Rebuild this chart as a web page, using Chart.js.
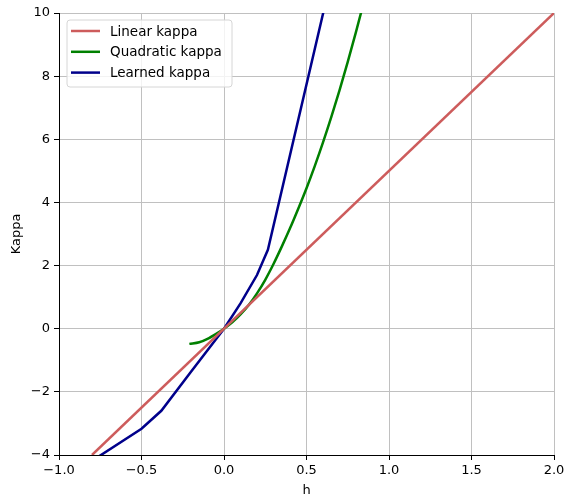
<!DOCTYPE html>
<html>
<head>
<meta charset="utf-8">
<script src="https://cdn.jsdelivr.net/npm/chart.js@4.4.1/dist/chart.umd.min.js"></script>
<style>
  html, body { margin: 0; padding: 0; background: #fff; }
  #wrap { width: 566px; height: 498px; }
</style>
</head>
<body>
<div id="wrap"><canvas id="kappaChart" width="566" height="498"></canvas></div>
<script>
// values
var linearH = [-0.8, 2.0];
var linearK = [-4.0, 10.0];

var quadH = [-0.21, -0.15, -0.1, -0.05, 0.0, 0.05, 0.1, 0.15, 0.2, 0.25, 0.3, 0.35, 0.4, 0.45,
             0.5, 0.55, 0.6, 0.65, 0.7, 0.75, 0.8, 0.85];
var quadK = [-0.48, -0.43, -0.32, -0.17, 0.0, 0.2, 0.45, 0.75, 1.12, 1.55, 2.05, 2.6, 3.18, 3.8,
             4.45, 5.15, 5.9, 6.7, 7.55, 8.45, 9.4, 10.4];

var learnedH = [-0.76, -0.5, -0.38, -0.2, 0.0, 0.1, 0.2, 0.266, 0.61];
var learnedK = [-4.05, -3.17, -2.6, -1.36, 0.0, 0.8, 1.7, 2.5, 10.2];

var xTicks = [-1.0, -0.5, 0.0, 0.5, 1.0, 1.5, 2.0];
var yTicks = [-4, -2, 0, 2, 4, 6, 8, 10];

function toPoints(xs, ys) {
    var pts = [];
    for (var i = 0; i < xs.length; i++) {
        pts.push({x: xs[i], y: ys[i]});
    }
    return pts;
}

function minus(s) {
    return String(s).replace('-', '\u2212');
}

var FONT = "'DejaVu Sans', sans-serif";
var GRID = '#c0c0c0';

// legend drawn inside the plot area like matplotlib's 'best' location
var insideLegend = {
    id: 'insideLegend',
    afterDatasetsDraw: function(chart) {
        var ctx = chart.ctx;
        var area = chart.chartArea;
        var x0 = area.left + 8, y0 = area.top + 7;
        var w = 165, h = 67, r = 3;
        ctx.save();
        ctx.beginPath();
        ctx.moveTo(x0 + r, y0);
        ctx.arcTo(x0 + w, y0, x0 + w, y0 + h, r);
        ctx.arcTo(x0 + w, y0 + h, x0, y0 + h, r);
        ctx.arcTo(x0, y0 + h, x0, y0, r);
        ctx.arcTo(x0, y0, x0 + w, y0, r);
        ctx.closePath();
        ctx.fillStyle = 'rgba(255,255,255,0.8)';
        ctx.fill();
        ctx.strokeStyle = '#d6d6d6';
        ctx.lineWidth = 1;
        ctx.stroke();

        ctx.font = '13.5px ' + FONT;
        ctx.textBaseline = 'middle';
        ctx.fillStyle = '#000';
        chart.data.datasets.forEach(function(ds, i) {
            var yy = y0 + 11 + i * 20.8;
            ctx.beginPath();
            ctx.moveTo(x0 + 4, yy);
            ctx.lineTo(x0 + 33, yy);
            ctx.strokeStyle = ds.borderColor;
            ctx.lineWidth = 2.5;
            ctx.stroke();
            ctx.fillText(ds.label, x0 + 43, yy + 1);
        });
        ctx.restore();
    }
};

var whiteBg = {
    id: 'whiteBg',
    beforeDraw: function(chart) {
        var ctx = chart.ctx;
        ctx.save();
        ctx.fillStyle = '#fff';
        ctx.fillRect(0, 0, chart.width, chart.height);
        ctx.restore();
    }
};

var kappaCtx = document.getElementById('kappaChart').getContext('2d');
var kappaChart = new Chart(kappaCtx, {
    type: 'scatter',
    data: {
        datasets: [{
            label: 'Linear kappa',
            data: toPoints(linearH, linearK),
            showLine: true,
            borderColor: '#cd5c5c',
            borderWidth: 2.5,
            pointRadius: 0,
            clip: 0
        }, {
            label: 'Quadratic kappa',
            data: toPoints(quadH, quadK),
            showLine: true,
            borderColor: '#008000',
            borderWidth: 2.5,
            pointRadius: 0,
            cubicInterpolationMode: 'monotone',
            clip: 0
        }, {
            label: 'Learned kappa',
            data: toPoints(learnedH, learnedK),
            showLine: true,
            borderColor: '#00008b',
            borderWidth: 2.5,
            pointRadius: 0,
            clip: 0
        }]
    },
    options: {
        responsive: false,
        animation: false,
        layout: { padding: { left: 0, right: 12, top: 13, bottom: 0 } },
        plugins: {
            legend: { display: false },
            tooltip: { enabled: false }
        },
        scales: {
            x: {
                type: 'linear',
                min: -1,
                max: 2,
                afterBuildTicks: function(axis) {
                    axis.ticks = xTicks.map(function(v) { return {value: v}; });
                },
                grid: { color: GRID, lineWidth: 1, tickLength: 5, tickColor: '#000' },
                border: { color: '#000', width: 1 },
                ticks: {
                    color: '#000',
                    font: { family: FONT, size: 13 },
                    padding: 3,
                    maxRotation: 0,
                    callback: function(v) { return minus(Number(v).toFixed(1)); }
                },
                title: {
                    display: true,
                    text: 'h',
                    color: '#000',
                    font: { family: FONT, size: 13 },
                    padding: { top: 2, bottom: 0 }
                },
                afterFit: function(axis) {
                    axis.height = 43;
                    axis.paddingLeft = 0;
                    axis.paddingRight = 0;
                }
            },
            y: {
                type: 'linear',
                min: -4,
                max: 10,
                afterBuildTicks: function(axis) {
                    axis.ticks = yTicks.map(function(v) { return {value: v}; });
                },
                grid: { color: GRID, lineWidth: 1, tickLength: 5, tickColor: '#000' },
                border: { color: '#000', width: 1 },
                ticks: {
                    color: '#000',
                    font: { family: FONT, size: 13 },
                    padding: 4,
                    callback: function(v) { return minus(v); }
                },
                title: {
                    display: true,
                    text: 'Kappa',
                    color: '#000',
                    font: { family: FONT, size: 13 },
                    padding: { top: 9, bottom: 4 }
                },
                afterFit: function(axis) {
                    axis.width = 59;
                    axis.paddingTop = 0;
                    axis.paddingBottom = 0;
                }
            }
        }
    },
    plugins: [whiteBg, insideLegend]
});
</script>
</body>
</html>
